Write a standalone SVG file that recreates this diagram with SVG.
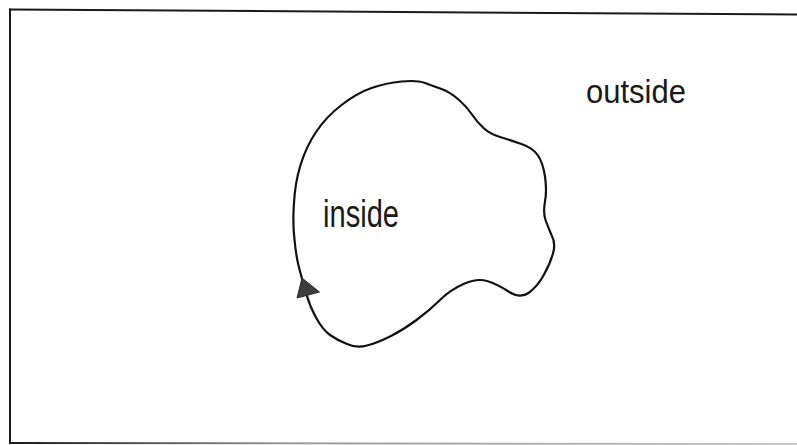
<svg xmlns="http://www.w3.org/2000/svg" width="797" height="445" viewBox="0 0 797 445">
  <style>
    .frame { fill: none; stroke: #1a1a1a; stroke-width: 2; stroke-linecap: square; }
    .curve { fill: none; stroke: #111; stroke-width: 2.2; stroke-linejoin: round; }
    .label { font-family: "Liberation Sans", Arial, sans-serif; fill: #1a1a1a; }
    .arrow { fill: #3c3c3c; stroke: #2a2a2a; stroke-width: 1; stroke-linejoin: round; }
  </style>
  <defs>
    <linearGradient id="fade" x1="0" y1="0" x2="1" y2="0">
      <stop offset="0" stop-color="#1a1a1a"/>
      <stop offset="0.35" stop-color="#9a9a9a"/>
      <stop offset="1" stop-color="#c8c8c8"/>
    </linearGradient>
  </defs>
  <rect width="797" height="445" fill="#ffffff"/>
  <g id="frame">
    <path class="frame" d="M10,9.5 L797,14.5"/>
    <path class="frame" d="M10,9.5 L10,443"/>
    <path d="M10,443 L797,444" fill="none" stroke="url(#fade)" stroke-width="2"/>
  </g>
  <g id="connectors">
    <path class="curve" d="M299,267.5 Q296,256 294.5,239.5 Q292.5,223 294,203 Q295,183 300.5,165 Q306,147 316,132 Q326,117 341.5,105 Q357,93 371.5,88 Q386,83 401.5,81.5 Q417,80 425,83 Q433,86 441.5,89 Q450,92 458.5,99.5 Q467,107 472,114.5 Q477,122 483.5,128 Q490,134 500,137 Q510,140 521.5,144 Q533,148 538,155.5 Q543,163 545,176.5 Q547,190 545,201.5 Q543,213 545.5,220 Q548,227 551.5,235 Q556,243 553,253.5 Q550,264 543.5,275.5 Q537,287 528.5,293 Q520,299 508.5,291.5 Q497,284 487,281 Q477,278 463.5,284 Q450,290 440,300 Q430,310 416.5,320 Q403,330 390,336.5 Q377,343 367,345.5 Q357,348.5 347,344 Q337,340 330,335 Q323,330 316.5,318.5 Q310,307 306,293 Q302,279 299,267.5 Z"/>
    <polygon class="arrow" points="302,278 297,298 319.5,292"/>
  </g>
  <g id="inside">
    <text class="label" x="323" y="227" font-size="38.5" textLength="76" lengthAdjust="spacingAndGlyphs">inside</text>
  </g>
  <g id="outside">
    <text class="label" x="586" y="103" font-size="34" textLength="100" lengthAdjust="spacingAndGlyphs">outside</text>
  </g>
</svg>
